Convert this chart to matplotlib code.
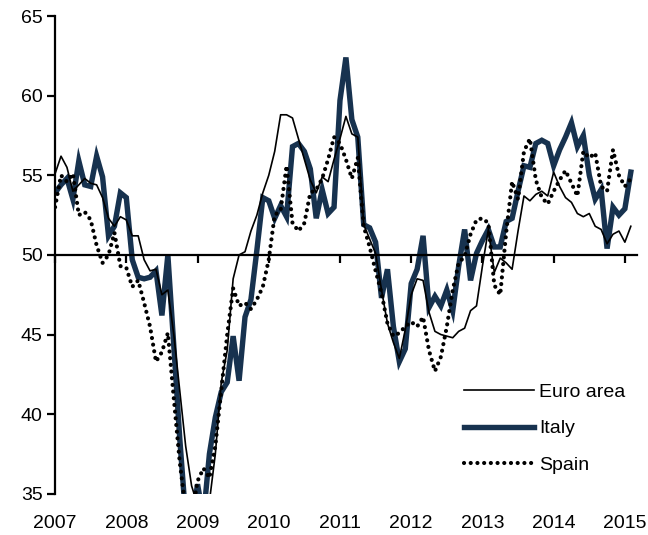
import numpy as np
import matplotlib
matplotlib.use('Agg')
import matplotlib.pyplot as plt

plt.rcParams['font.family'] = ['Liberation Sans', 'DejaVu Sans']

# Monthly readings, Jan 2007 - Feb 2015
start_year = 2007
euro_area = [55.1, 56.2, 55.5, 54.0, 54.4, 54.8, 54.5, 54.4, 53.6, 52.3, 51.8, 52.4,
             52.2, 51.2, 51.2, 49.7, 49.0, 49.1, 47.5, 47.8, 45.0, 41.5, 38.0, 35.5,
             34.3, 33.8, 34.5, 37.5, 42.0, 44.0, 48.5, 50.0, 50.2, 51.5, 52.5, 53.9,
             55.0, 56.5, 58.8, 58.8, 58.6, 57.3, 56.0, 54.7, 53.9, 54.9, 54.6, 56.0,
             57.3, 58.7, 57.6, 57.4, 51.9, 51.0, 50.1, 47.8, 45.7, 44.5, 43.5, 45.3,
             47.5, 48.5, 48.4, 46.4, 45.2, 45.0, 44.9, 44.8, 45.2, 45.4, 46.5, 46.8,
             49.3, 51.6, 48.9, 49.8, 49.5, 49.1, 51.5, 53.7, 53.4, 53.8, 54.0, 53.7,
             55.2, 54.3, 53.6, 53.3, 52.6, 52.4, 52.6, 51.8, 51.6, 50.7, 51.3, 51.5,
             50.8, 51.8]
italy = [53.9, 54.4, 54.8, 53.5, 55.9, 54.4, 54.3, 56.2, 54.9, 51.2, 51.8, 53.9,
         53.6, 49.7, 48.6, 48.5, 48.6, 49.0, 46.2, 50.0, 44.3, 38.5, 33.5, 33.0,
         35.6, 33.5, 37.5, 39.8, 41.4, 42.0, 44.9, 42.1, 46.1, 47.2, 50.3, 53.6,
         53.4, 52.3, 53.1, 52.4, 56.8, 57.0, 56.5, 55.4, 52.3, 54.1, 52.6, 53.0,
         59.7, 62.4, 58.5, 57.4, 51.9, 51.7, 50.8, 47.3, 49.1, 45.5, 43.3, 44.1,
         48.2, 49.1, 51.2, 46.7, 47.4, 46.8, 47.8, 46.5, 49.3, 51.6, 48.4, 50.1,
         50.9, 51.6, 50.5, 50.5, 52.1, 52.3, 54.0, 55.6, 55.5, 57.0, 57.2, 57.0,
         55.6, 56.6, 57.4, 58.3, 56.8, 57.5, 55.0, 53.5, 54.1, 50.4, 53.0, 52.5,
         52.9, 55.2]
spain = [53.0, 55.0, 54.6, 55.1, 52.5, 52.7, 52.2, 50.6, 49.5, 50.0, 51.4, 49.3,
         49.2, 48.0, 48.4, 47.0, 45.5, 43.3, 43.9, 45.1, 41.0, 37.0, 34.0, 33.5,
         35.8, 36.6, 36.0, 38.0, 41.5, 45.0, 47.9, 46.8, 47.0, 46.6, 47.2, 48.0,
         49.7, 52.5, 52.8, 55.6, 52.0, 51.5, 52.0, 53.9, 54.1, 54.8, 56.0, 57.4,
         57.0, 56.0, 54.8, 56.1, 51.8, 50.5, 49.0, 47.6, 45.7, 44.9, 45.1, 45.5,
         45.8, 45.5, 46.1, 44.0, 42.7, 43.6, 45.5, 47.8, 49.5, 49.9, 51.3, 52.2,
         52.3, 52.0, 48.1, 47.5, 51.4, 54.6, 53.5, 56.5, 57.3, 54.7, 53.6, 53.2,
         54.0, 54.7, 55.3, 54.5, 53.7, 56.5, 56.1, 56.4, 54.3, 54.0, 56.6, 55.0,
         54.3, 54.8]
years = list(range(2007, 2016))
y_ticks = [35, 40, 45, 50, 55, 60, 65]

x = start_year + np.arange(len(italy)) / 12.0

fig = plt.figure(figsize=(6.48, 5.35), dpi=100)
ax = fig.add_axes([0.085, 0.077, 0.898, 0.893])

ax.plot(x, euro_area, color='black', lw=1.2, label='Euro area', zorder=3)
ax.plot(x, italy, color='#17324f', lw=3.9, label='Italy', zorder=2,
        solid_joinstyle='miter')
ax.plot(x, spain, color='black', lw=3.0, linestyle=(0, (0.01, 1.6)),
        dash_capstyle='round', label='Spain', zorder=4)

ax.set_xlim(2007, 2015.17)
ax.set_ylim(35, 65)
ax.set_yticks(y_ticks)

# x axis sits on the 50 line, labels stay at the bottom
ax.spines['bottom'].set_position(('data', 50))
ax.spines['bottom'].set_linewidth(1.6)
ax.spines['left'].set_linewidth(1.6)
ax.spines['top'].set_visible(False)
ax.spines['right'].set_visible(False)
ax.set_xticks(years)
ax.tick_params(axis='x', direction='out', length=6, width=1.6, labelbottom=False)
ax.tick_params(axis='y', direction='out', length=6, width=1.6, labelsize=14, pad=3)

sec = ax.secondary_xaxis('bottom')
sec.set_xticks(years)
sec.spines['bottom'].set_visible(False)
sec.tick_params(length=0, labelsize=14, pad=15)

ax.legend(loc='upper left', bbox_to_anchor=(0.702, 0.231), frameon=False,
          fontsize=14, handlelength=3.6, handletextpad=0.3, labelspacing=0.96,
          borderpad=0, borderaxespad=0)

plt.savefig('out.png', dpi=100)
